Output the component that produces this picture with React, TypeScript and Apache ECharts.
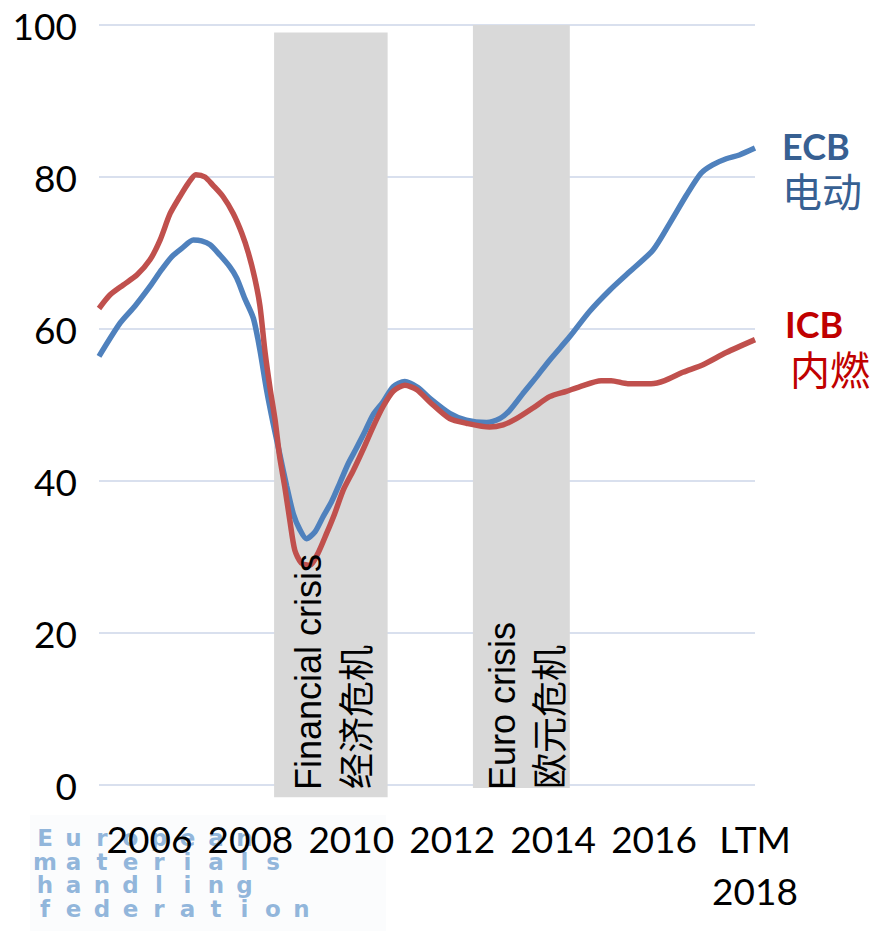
import React, { useEffect, useRef } from "react";
import * as echarts from "echarts";

// ---- data ----
const ecbYears = [2005.0, 2005.42, 2005.71, 2006.01, 2006.24, 2006.44, 2006.64, 2006.87, 2007.03, 2007.2, 2007.4, 2007.59, 2007.73, 2007.89, 2008.06, 2008.19, 2008.32, 2008.45, 2008.58, 2008.72, 2008.85, 2008.98, 2009.11, 2009.28, 2009.44, 2009.61, 2009.77, 2009.94, 2010.1, 2010.27, 2010.43, 2010.63, 2010.83, 2011.06, 2011.32, 2011.57, 2011.95, 2012.28, 2012.68, 2012.94, 2013.14, 2013.4, 2013.67, 2013.93, 2014.33, 2014.72, 2015.12, 2015.51, 2015.98, 2016.31, 2016.64, 2016.93, 2017.16, 2017.43, 2017.69, 2018.0];
const ecbValues = [56.4, 60.8, 63.0, 65.6, 67.8, 69.5, 70.6, 71.7, 71.6, 71.1, 69.7, 68.2, 66.7, 64.0, 61.4, 57.2, 52.0, 47.6, 43.6, 39.3, 35.7, 33.6, 32.4, 33.3, 35.3, 37.3, 39.7, 42.3, 44.3, 46.5, 48.7, 50.4, 52.4, 53.1, 52.3, 50.8, 48.9, 48.0, 47.7, 48.2, 49.3, 51.5, 53.7, 55.9, 59.0, 62.3, 65.1, 67.5, 70.4, 73.9, 77.6, 80.5, 81.6, 82.4, 82.9, 83.8];

const icbYears = [2005.0, 2005.22, 2005.48, 2005.75, 2006.01, 2006.21, 2006.41, 2006.6, 2006.77, 2006.92, 2007.1, 2007.26, 2007.46, 2007.66, 2007.83, 2007.96, 2008.09, 2008.19, 2008.29, 2008.39, 2008.49, 2008.58, 2008.68, 2008.78, 2008.88, 2009.01, 2009.18, 2009.34, 2009.51, 2009.67, 2009.84, 2010.04, 2010.23, 2010.43, 2010.63, 2010.83, 2011.06, 2011.3, 2011.57, 2011.95, 2012.28, 2012.74, 2013.01, 2013.27, 2013.6, 2013.93, 2014.26, 2014.52, 2014.95, 2015.15, 2015.48, 2015.94, 2016.21, 2016.57, 2016.97, 2017.43, 2018.0];
const icbValues = [62.7, 64.5, 65.8, 67.1, 69.1, 71.7, 75.2, 77.4, 79.2, 80.3, 80.0, 78.9, 77.4, 75.2, 72.6, 70.0, 66.6, 63.0, 57.0, 52.2, 48.0, 43.2, 39.3, 34.9, 30.9, 29.2, 28.9, 30.5, 33.1, 35.7, 38.8, 41.4, 44.1, 47.1, 49.8, 51.8, 52.6, 52.0, 50.3, 48.2, 47.6, 47.1, 47.4, 48.2, 49.6, 51.1, 51.8, 52.4, 53.2, 53.2, 52.8, 52.8, 53.2, 54.3, 55.3, 56.9, 58.6];

const crisisStart = [2008.47, 2012.41];
const crisisEnd = [2010.72, 2014.33];
const crisisTop = [99.0, 100.0];
const crisisBottom = [-1.6, -0.4];
const crisisLabelsEn = ["Financial crisis", "Euro crisis"];
const crisisLabelsZh = ["经济危机", "欧元危机"];

const xTickYears = [2006, 2008, 2010, 2012, 2014, 2016, 2018];
const xTickLabels = ["2006", "2008", "2010", "2012", "2014", "2016", "LTM\n2018"];

const seriesNames = ["ECB", "ICB"];
const seriesNamesZh = ["电动", "内燃"];

const watermarkLines = ["European", "materials", "handling", "federation"];

// ---- layout / style ----
const labelOffsets = [
  { en: 34, zh: 80 },
  { en: 29.5, zh: 74 },
];

export default function App() {
  const ref = useRef<HTMLDivElement>(null);

  useEffect(() => {
    if (!ref.current) return;
    const chart = echarts.init(ref.current, null, { renderer: "svg" });

    const bandData = crisisStart.map((s, i) => [s, crisisEnd[i], crisisTop[i], crisisBottom[i], i]);

    const wm: any[] = [];
    watermarkLines.forEach((line, li) => {
      line.split("").forEach((ch, ci) => {
        wm.push({
          type: "text",
          x: 45 + ci * 28.5,
          y: 838 + li * 23.5,
          z: -5,
          silent: true,
          style: {
            text: ch,
            font: "bold 23px 'DejaVu Sans'",
            fill: "#7FAAD5",
            opacity: 0.85,
            align: "center",
            verticalAlign: "middle",
          },
        });
      });
    });

    const option: any = {
      animation: false,
      backgroundColor: "#ffffff",
      grid: { left: 99, right: 128, top: 25, bottom: 146, containLabel: false },
      xAxis: {
        type: "value",
        min: 2005,
        max: 2018,
        interval: 1,
        z: 10,
        axisLine: { show: false },
        axisTick: { show: false },
        splitLine: { show: false },
        axisLabel: {
          margin: 27,
          fontFamily: "Lato",
          fontSize: 37,
          color: "#000",
          lineHeight: 52,
          formatter: (v: number) => {
            const idx = xTickYears.indexOf(Math.round(v));
            return idx >= 0 && Math.abs(v - Math.round(v)) < 1e-6 ? xTickLabels[idx] : "";
          },
        },
      },
      yAxis: {
        type: "value",
        min: 0,
        max: 100,
        interval: 20,
        axisLine: { show: false },
        axisTick: { show: false },
        splitLine: { show: true, lineStyle: { color: "#CDD6E8", width: 1.5 } },
        axisLabel: {
          margin: 22,
          fontFamily: "Lato",
          fontSize: 37,
          color: "#000",
        },
      },
      graphic: [
        {
          type: "rect",
          z: -6,
          silent: true,
          shape: { x: 30, y: 815, width: 356, height: 116 },
          style: { fill: "#FBFCFD" },
        },
        ...wm,
      ],
      series: [
        {
          type: "custom",
          name: "bands",
          z: 1,
          clip: false,
          data: bandData,
          renderItem: (params: any, api: any) => {
            const p0 = api.coord([api.value(0), api.value(2)]);
            const p1 = api.coord([api.value(1), api.value(3)]);
            return {
              type: "rect",
              shape: { x: p0[0], y: p0[1], width: p1[0] - p0[0], height: p1[1] - p0[1] },
              style: { fill: "#D9D9D9" },
            };
          },
        },
        {
          type: "custom",
          name: "bandLabels",
          z: 5,
          clip: false,
          silent: true,
          data: bandData,
          renderItem: (params: any, api: any) => {
            const i = api.value(4);
            const p0 = api.coord([api.value(0), 0]);
            const off = labelOffsets[i];
            return {
              type: "group",
              children: [
                {
                  type: "text",
                  x: p0[0] + off.en,
                  y: p0[1] + 5,
                  rotation: Math.PI / 2,
                  style: {
                    text: crisisLabelsEn[i],
                    font: "36px 'Liberation Sans'",
                    fill: "#000",
                    align: "left",
                    verticalAlign: "middle",
                  },
                },
                {
                  type: "text",
                  x: p0[0] + off.zh,
                  y: p0[1] + 4,
                  rotation: Math.PI / 2,
                  style: {
                    text: crisisLabelsZh[i],
                    font: "36px 'Noto Sans CJK SC'",
                    fill: "#000",
                    align: "left",
                    verticalAlign: "middle",
                  },
                },
              ],
            };
          },
        },
        {
          type: "line",
          name: seriesNames[0],
          z: 3,
          data: ecbYears.map((y, i) => [y, ecbValues[i]]),
          showSymbol: false,
          smooth: 0.25,
          lineStyle: { color: "#4F81BD", width: 5.5 },
          itemStyle: { color: "#4F81BD" },
          endLabel: {
            show: true,
            distance: 27,
            offset: [0, 20],
            formatter: () => `{a|${seriesNames[0]}}\n{b|${seriesNamesZh[0]}}`,
            rich: {
              a: { fontFamily: "Lato", fontWeight: "bold", fontSize: 36, color: "#376092", lineHeight: 44 },
              b: { fontFamily: "Noto Sans CJK SC", fontSize: 40, color: "#376092", lineHeight: 44 },
            },
          },
        },
        {
          type: "line",
          name: seriesNames[1],
          z: 3,
          data: icbYears.map((y, i) => [y, icbValues[i]]),
          showSymbol: false,
          smooth: 0.25,
          lineStyle: { color: "#C0504D", width: 5.5 },
          itemStyle: { color: "#C0504D" },
          endLabel: {
            show: true,
            distance: 30,
            offset: [0, 6],
            formatter: () => `{a|${seriesNames[1]}}\n{b|${seriesNamesZh[1]}}`,
            rich: {
              a: { fontFamily: "Lato", fontWeight: "bold", fontSize: 36, color: "#C00000", lineHeight: 44 },
              b: { fontFamily: "Noto Sans CJK SC", fontSize: 40, color: "#C00000", lineHeight: 44, padding: [0, 0, 0, 5] },
            },
          },
        },
      ],
    };

    chart.setOption(option);
    return () => chart.dispose();
  }, []);

  return (
    <div
      ref={ref}
      style={{ position: "fixed", left: 0, top: 0, width: 883, height: 931, background: "#fff" }}
    />
  );
}
